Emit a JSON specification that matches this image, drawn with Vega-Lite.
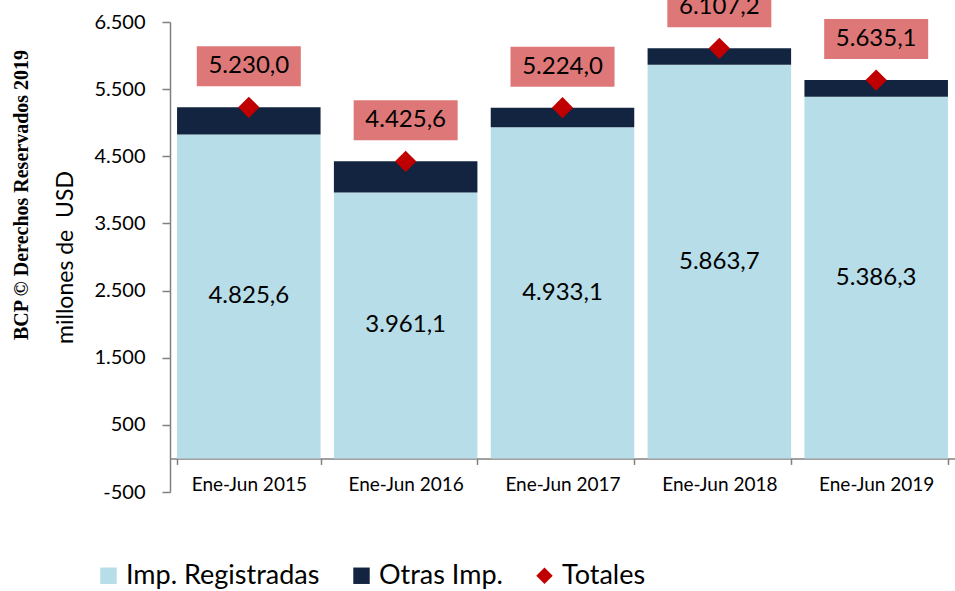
{
  "$schema": "https://vega.github.io/schema/vega-lite/v6.json",
  "width": 785,
  "height": 470,
  "autosize": "none",
  "padding": {"left": 170, "top": 22, "right": 0, "bottom": 99},
  "background": "white",
  "config": {
    "font": "Lato",
    "view": {"stroke": null, "fill": null},
    "locale": {"number": {"decimal": ",", "thousands": ".", "grouping": [3], "currency": ["", ""], "minus": "-"}}
  },
  "title": {
    "text": "BCP © Derechos Reservados 2019",
    "orient": "left",
    "anchor": "middle",
    "font": "Liberation Serif",
    "fontWeight": "bold",
    "fontSize": 20,
    "color": "black",
    "offset": 22,
    "dx": 62
  },
  "datasets": {
    "segmentos": [
      {"periodo": "Ene-Jun 2015", "serie": "Imp. Registradas", "valor": 4825.6},
      {"periodo": "Ene-Jun 2015", "serie": "Otras Imp.", "valor": 404.4},
      {"periodo": "Ene-Jun 2016", "serie": "Imp. Registradas", "valor": 3961.1},
      {"periodo": "Ene-Jun 2016", "serie": "Otras Imp.", "valor": 464.5},
      {"periodo": "Ene-Jun 2017", "serie": "Imp. Registradas", "valor": 4933.1},
      {"periodo": "Ene-Jun 2017", "serie": "Otras Imp.", "valor": 290.9},
      {"periodo": "Ene-Jun 2018", "serie": "Imp. Registradas", "valor": 5863.7},
      {"periodo": "Ene-Jun 2018", "serie": "Otras Imp.", "valor": 243.5},
      {"periodo": "Ene-Jun 2019", "serie": "Imp. Registradas", "valor": 5386.3},
      {"periodo": "Ene-Jun 2019", "serie": "Otras Imp.", "valor": 248.8}
    ],
    "totales": [
      {"periodo": "Ene-Jun 2015", "serie": "Totales", "total": 5230.0},
      {"periodo": "Ene-Jun 2016", "serie": "Totales", "total": 4425.6},
      {"periodo": "Ene-Jun 2017", "serie": "Totales", "total": 5224.0},
      {"periodo": "Ene-Jun 2018", "serie": "Totales", "total": 6107.2},
      {"periodo": "Ene-Jun 2019", "serie": "Totales", "total": 5635.1}
    ]
  },
  "encoding": {
    "x": {
      "field": "periodo",
      "type": "nominal",
      "sort": null,
      "scale": {"paddingInner": 0.085, "paddingOuter": 0.045},
      "axis": {
        "title": null,
        "offset": -33.6,
        "domainColor": "#808080",
        "domainWidth": 1.5,
        "tickColor": "#808080",
        "tickWidth": 1.5,
        "tickBand": "extent",
        "tickSize": 6,
        "labelFontSize": 19,
        "labelColor": "black",
        "labelPadding": 11,
        "labelAngle": 0
      }
    },
    "y": {
      "type": "quantitative",
      "scale": {"domain": [-500, 6500], "nice": false, "zero": false},
      "axis": {
        "title": "millones de\u00a0 USD",
        "titleFontSize": 23,
        "titleFontWeight": "normal",
        "titleColor": "black",
        "titleX": -105,
        "titleY": 235,
        "titleBaseline": "middle",
        "values": [-500, 500, 1500, 2500, 3500, 4500, 5500, 6500],
        "format": ",d",
        "grid": false,
        "domain": true,
        "domainColor": "#808080",
        "domainWidth": 1.5,
        "ticks": true,
        "tickColor": "#808080",
        "tickWidth": 1.5,
        "tickSize": 8,
        "labelFontSize": 20,
        "labelColor": "black",
        "labelPadding": 17
      }
    }
  },
  "layer": [
    {
      "data": {"name": "segmentos"},
      "mark": {"type": "bar"},
      "encoding": {
        "y": {"field": "valor", "stack": "zero"},
        "color": {
          "field": "serie",
          "type": "nominal",
          "scale": {
            "domain": ["Imp. Registradas", "Otras Imp.", "Totales"],
            "range": ["#b7dde8", "#12243f", "#c00000"]
          },
          "legend": {
            "title": null,
            "orient": "none",
            "direction": "horizontal",
            "legendX": -75,
            "legendY": 540,
            "labelFontSize": 27,
            "labelLimit": 400,
            "labelColor": "black",
            "labelOffset": 4,
            "symbolSize": 270,
            "symbolOpacity": 1,
            "columnPadding": 28
          }
        },
        "order": {"field": "serie", "sort": "ascending"}
      }
    },
    {
      "data": {"name": "segmentos"},
      "transform": [
        {"filter": "datum.serie === 'Imp. Registradas'"},
        {"calculate": "datum.valor / 2", "as": "mitad"}
      ],
      "mark": {"type": "text", "fontSize": 24, "color": "black", "baseline": "middle"},
      "encoding": {
        "y": {"field": "mitad"},
        "text": {"field": "valor", "type": "quantitative", "format": ",.1f"}
      }
    },
    {
      "data": {"name": "totales"},
      "mark": {"type": "bar", "width": 104, "color": "#de7878", "yOffset": -61, "y2Offset": -21},
      "encoding": {
        "y": {"field": "total"},
        "y2": {"field": "total"}
      }
    },
    {
      "data": {"name": "totales"},
      "mark": {"type": "text", "fontSize": 24, "color": "black", "baseline": "middle", "yOffset": -41},
      "encoding": {
        "y": {"field": "total"},
        "text": {"field": "total", "type": "quantitative", "format": ",.1f"}
      }
    },
    {
      "data": {"name": "totales"},
      "mark": {"type": "point", "filled": true, "opacity": 1, "size": 450},
      "encoding": {
        "y": {"field": "total"},
        "color": {"field": "serie", "type": "nominal"},
        "shape": {
          "field": "serie",
          "type": "nominal",
          "scale": {
            "domain": ["Imp. Registradas", "Otras Imp.", "Totales"],
            "range": ["square", "square", "diamond"]
          },
          "legend": {
            "title": null,
            "orient": "none",
            "direction": "horizontal",
            "legendX": -75,
            "legendY": 540,
            "labelFontSize": 27,
            "labelLimit": 400,
            "labelColor": "black",
            "labelOffset": 4,
            "symbolSize": 270,
            "symbolOpacity": 1,
            "columnPadding": 28
          }
        }
      }
    }
  ]
}
